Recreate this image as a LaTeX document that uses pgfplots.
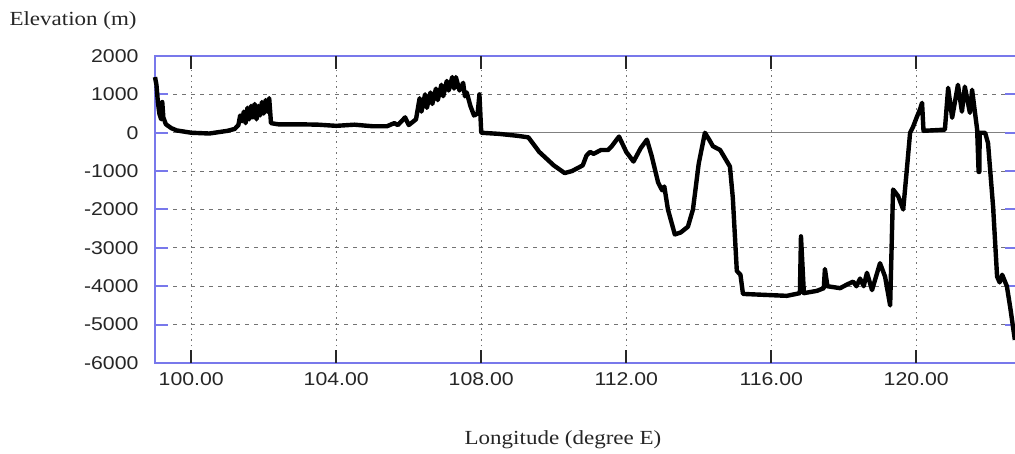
\documentclass[border=0pt]{standalone}
\usepackage{pgfplots}
\pgfplotsset{compat=1.18}
\usepackage{fontspec}
\setmainfont{Liberation Serif}
\newfontfamily\tickfont[FakeStretch=1.15]{Liberation Sans}
\newfontfamily\labfont[FakeStretch=1.15]{Liberation Serif}
\definecolor{framecol}{RGB}{120,120,235}
\begin{document}
\begin{tikzpicture}
\useasboundingbox (0pt,0pt) rectangle (1015pt,454pt);
\begin{scope}
\clip (0pt,0pt) rectangle (1015pt,454pt);
\begin{axis}[
  at={(155pt,91pt)}, anchor=south west,
  scale only axis, width=862.75pt, height=307pt,
  xmin=99, xmax=122.8, ymin=-6000, ymax=2000,
  xtick={100,104,108,112,116,120},
  ytick={-6000,-5000,-4000,-3000,-2000,-1000,0,1000,2000},
  /pgf/number format/assume math mode=true,
  xticklabel style={/pgf/number format/fixed, /pgf/number format/fixed zerofill, /pgf/number format/precision=2, /pgf/number format/1000 sep={}, yshift=-6pt},
  yticklabel style={/pgf/number format/fixed, /pgf/number format/1000 sep={}, xshift=-13pt},
  tick label style={font=\tickfont\fontsize{18.5}{20}\selectfont, text=black!85},
  grid=major,
  x grid style={black!55, dash pattern=on 1.5pt off 4pt, line width=1.2pt},
  y grid style={black!55, dash pattern=on 4pt off 5pt, line width=1.2pt},
  axis line style={framecol, line width=2pt},
  major tick length=13pt,
  tick align=inside,
  xtick pos=both, ytick pos=both,
  tick style={black!85, line width=2pt},
  clip=false,
]
\addplot[black!50, line width=1.5pt, forget plot] coordinates {(108,0) (122.8,0)};
\pgfplotsinvokeforeach{100,104,108,112,116,120}{
  \draw[black!85, line width=2pt, solid] (axis cs:#1,-6000) -- ([yshift=13pt]axis cs:#1,-6000);
  \draw[black!85, line width=2pt, solid] (axis cs:#1,2000) -- ([yshift=-13pt]axis cs:#1,2000);
}
\pgfplotsinvokeforeach{-5000,-4000,-3000,-2000,-1000,0,1000}{
  \draw[framecol, line width=2pt, solid] (axis cs:99,#1) -- ([xshift=13pt]axis cs:99,#1);
  \draw[framecol, line width=2pt, solid] (axis cs:122.8,#1) -- ([xshift=-13pt]axis cs:122.8,#1);
}
\addplot[black, line width=4.4pt, line join=round] coordinates {
(99.0,1450) (99.04,1250) (99.08,800) (99.12,500) (99.17,350) (99.2,800) (99.23,400)
(99.3,220) (99.45,120) (99.6,60) (100.0,0) (100.5,-20) (101.0,50) (101.2,100)
(101.3,200) (101.35,450) (101.4,300) (101.45,550) (101.5,250) (101.55,650)
(101.6,350) (101.65,700) (101.7,400) (101.75,750) (101.8,350) (101.85,700)
(101.9,450) (101.95,800) (102.0,500) (102.05,850) (102.1,550) (102.15,900)
(102.2,250) (102.4,220) (103.0,220) (103.5,210) (104.0,180) (104.5,210)
(105.0,170) (105.4,170) (105.6,250) (105.7,200) (105.9,400) (106.0,200)
(106.2,350) (106.3,900) (106.35,550) (106.45,1000) (106.5,650) (106.6,1050)
(106.65,750) (106.75,1150) (106.8,850) (106.9,1250) (106.95,950) (107.05,1350)
(107.1,1100) (107.2,1450) (107.25,1150) (107.3,1450) (107.4,1100) (107.5,1300)
(107.55,950) (107.6,1050) (107.7,700) (107.8,450) (107.9,500) (107.95,1000) (108.0,0)
(108.5,-30) (109.0,-80) (109.3,-120) (109.6,-500) (110.0,-850) (110.3,-1050)
(110.5,-1000) (110.8,-850) (110.9,-600) (111.0,-500) (111.1,-550) (111.3,-450)
(111.5,-450) (111.6,-350) (111.8,-100) (112.0,-500) (112.2,-750) (112.4,-400)
(112.57,-180) (112.7,-600) (112.88,-1300) (112.99,-1500) (113.05,-1400)
(113.15,-2000) (113.34,-2650) (113.5,-2600) (113.7,-2450) (113.84,-2000)
(114.0,-800) (114.17,0) (114.3,-200) (114.39,-350) (114.59,-450) (114.86,-880)
(114.94,-1700) (115.05,-3600) (115.15,-3700) (115.22,-4200) (116.43,-4250)
(116.79,-4180) (116.82,-2700) (116.9,-4180) (117.26,-4120) (117.45,-4050)
(117.48,-3550) (117.55,-4000) (117.9,-4050) (118.1,-3950) (118.26,-3880)
(118.35,-4000) (118.45,-3800) (118.55,-4000) (118.64,-3650) (118.78,-4100)
(119.0,-3400) (119.14,-3750) (119.28,-4500) (119.36,-1480) (119.5,-1650)
(119.64,-2000) (119.74,-960) (119.83,0) (119.91,150) (120.02,420) (120.1,600)
(120.16,780) (120.2,50) (120.79,80) (120.88,1170) (120.99,390) (121.15,1250)
(121.26,550) (121.34,1200) (121.48,520) (121.54,1120) (121.68,80) (121.72,-1020)
(121.74,-1020) (121.75,0) (121.9,0) (121.98,-270) (122.12,-1930) (122.23,-3750)
(122.3,-3900) (122.37,-3700) (122.5,-4000) (122.6,-4600) (122.72,-5400)
};
\end{axis}
\end{scope}
\node[anchor=west, font=\labfont\fontsize{20}{24}\selectfont, text=black!85] at (6pt,433pt) {Elevation (m)};
\node[font=\labfont\fontsize{20}{24}\selectfont, text=black!85] at (563pt,14pt) {Longitude (degree E)};
\end{tikzpicture}
\end{document}
